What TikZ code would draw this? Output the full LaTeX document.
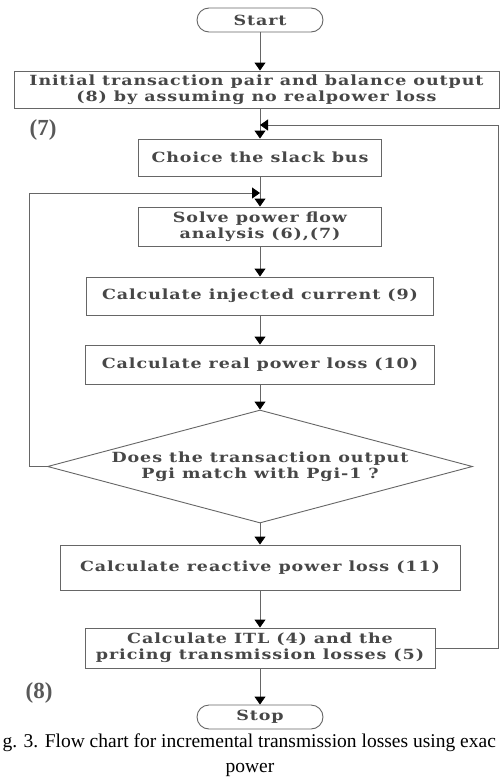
\documentclass[tikz,border=0pt]{standalone}
\usepackage{fontspec}
\setmainfont{Liberation Serif}
\newfontfamily\flowfont[FakeStretch=1.25,LetterSpace=6.5]{DejaVu Serif}
\usetikzlibrary{arrows.meta,shapes.geometric}
\begin{document}
\begin{tikzpicture}[x=1pt,y=-1pt,
  box/.style={draw=black!60,line width=0.9pt,rectangle,inner sep=0pt,align=center,
    font=\flowfont\bfseries\fontsize{14}{16}\selectfont,text=black!72},
  term/.style={box,rounded corners=12pt,minimum width=126pt,minimum height=24pt},
  dec/.style={box,diamond,aspect=3.76,minimum width=425pt,minimum height=113pt},
  flow/.style={draw=black!60,line width=0.9pt,-{Triangle[width=11pt,length=8pt,color=black]}},
  tag/.style={font=\bfseries\fontsize{23}{25}\selectfont,text=black!65},
  captext/.style={font=\fontsize{19.5}{21}\selectfont,text=black}]
\useasboundingbox (0,0) rectangle (500,779);
\fill[white] (0,0) rectangle (500,779);
\node[term] (start) at (260,20) {Start};
\node[box,minimum width=485pt,minimum height=37pt] (init) at (256.5,89.5)
  {Initial transaction pair and balance output\\(8) by assuming no realpower loss};
\node[box,minimum width=243pt,minimum height=37pt] (choice) at (260,157.5) {Choice the slack bus};
\node[box,minimum width=243pt,minimum height=39pt] (solve) at (260,226.5) {Solve power flow\\analysis (6),(7)};
\node[box,minimum width=347pt,minimum height=38pt] (inj) at (260,296) {Calculate injected current (9)};
\node[box,minimum width=349pt,minimum height=39pt] (real) at (260,364.5) {Calculate real power loss (10)};
\node[dec] (match) at (260,466.5) {Does the transaction output\\Pgi match with Pgi-1 ?};
\node[box,minimum width=400pt,minimum height=45pt] (react) at (260,567.5) {Calculate reactive power loss (11)};
\node[box,minimum width=350pt,minimum height=40pt] (itl) at (260,648) {Calculate ITL (4) and the\\pricing transmission losses (5)};
\node[term] (stop) at (260,717) {Stop};
\node[tag] (t7) at (43,130) {(7)};
\node[tag] (t8) at (39,693) {(8)};
\node[captext,anchor=west] (cap1) at (-1,743) {g. 3. Flow chart for incremental transmission losses using exac};
\node[captext] (cap2) at (250,770) {power};
\coordinate (j1) at (260,125);
\coordinate (j2) at (260,193);
\coordinate (r1) at (498,648);
\coordinate (r2) at (498,125);
\coordinate (l1) at (29,466.5);
\coordinate (l2) at (29,193);
\draw[flow] (start) -- (start.south |- init.north);
\draw[flow] (choice.north |- init.south) -- (choice.north);
\draw[flow] (choice) -- (solve);
\draw[flow] (solve) -- (inj);
\draw[flow] (inj) -- (real);
\draw[flow] (real) -- (match);
\draw[flow] (match) -- (react);
\draw[flow] (react) -- (itl);
\draw[flow] (itl) -- (stop);
\draw[flow] (itl.east) -- (r1) -- (r2) -- (j1);
\draw[flow] (match.west) -- (l1) -- (l2) -- (j2);
\end{tikzpicture}
\end{document}
